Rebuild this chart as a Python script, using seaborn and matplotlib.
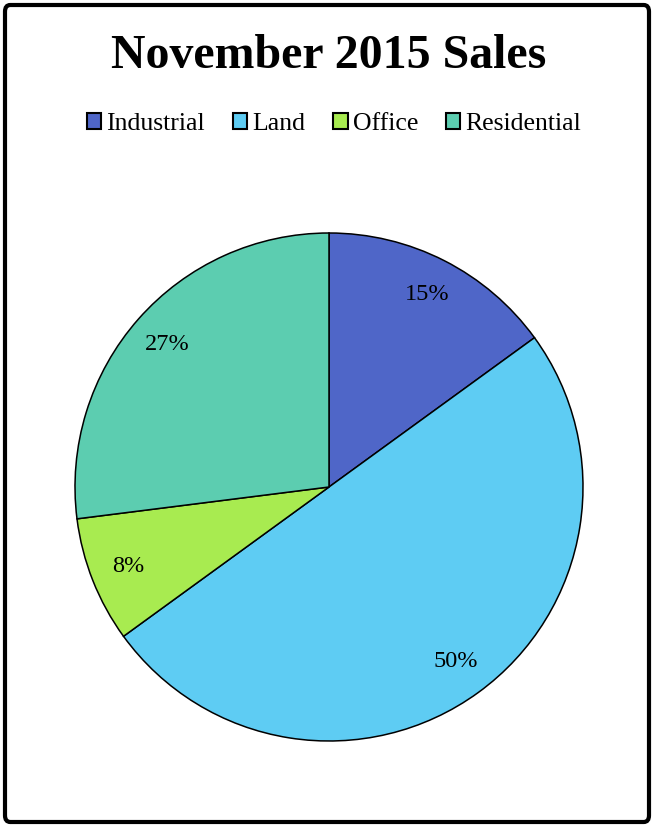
import matplotlib
matplotlib.use("Agg")
import matplotlib.pyplot as plt
import seaborn as sns
from matplotlib.patches import FancyBboxPatch, Patch

categories = ["Industrial", "Land", "Office", "Residential"]
values = [15, 50, 8, 27]
colors = ["#4F66C8", "#5ECCF3", "#A8EB50", "#5CCDB0"]
title = "November 2015 Sales"

sns.set_theme(style="white")
plt.rcParams["font.family"] = ["Liberation Serif", "DejaVu Serif"]
plt.rcParams["text.color"] = "black"

W, H = 654, 827
fig = plt.figure(figsize=(W / 100, H / 100), dpi=100)
fig.patch.set_facecolor("white")

# pie axes: center (329,487) px, radius 254 px
cx, cy, r = 329, 487, 254
ax = fig.add_axes([(cx - r) / W, (H - cy - r) / H, 2 * r / W, 2 * r / H])
wedges, texts, autotexts = ax.pie(
    values, colors=colors, startangle=90, counterclock=False,
    autopct=lambda p: f"{p:.0f}%", pctdistance=0.85, radius=1,
    wedgeprops=dict(edgecolor="black", linewidth=1.1),
    textprops=dict(fontsize=17.5, color="black"),
)
ax.set_xlim(-1.0, 1.0)
ax.set_ylim(-1.0, 1.0)
ax.set_aspect("equal")
ax.axis("off")
for w in wedges:
    w.set_clip_on(False)

fig.text(0.5 + 2 / W, (H - 56) / H, title, ha="center", va="center",
         fontsize=34.5, fontweight="bold", color="black")

handles = [Patch(facecolor=c, edgecolor="black", linewidth=1.5) for c in colors]
leg = fig.legend(handles, categories, loc="center", bbox_to_anchor=(0.5 + 7 / W, (H - 124) / H),
                 ncol=4, frameon=False, fontsize=18.5, handlelength=0.55, handleheight=0.55,
                 handletextpad=0.2, columnspacing=1.1, borderaxespad=0)
for t in leg.get_texts():
    t.set_color("black")

border = FancyBboxPatch((5 / W, 5 / H), (W - 10) / W, (H - 10) / H,
                        boxstyle="round,pad=0,rounding_size=0.008",
                        transform=fig.transFigure, facecolor="none",
                        edgecolor="black", linewidth=3.0)
fig.patches.append(border)

fig.savefig("out.png", dpi=100)
